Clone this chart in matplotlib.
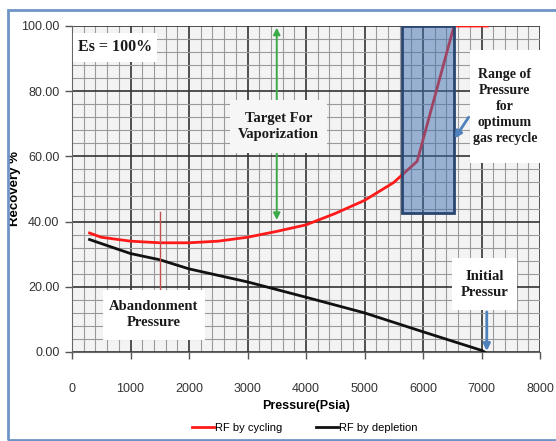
import matplotlib
matplotlib.use('Agg')
import matplotlib.pyplot as plt
import matplotlib.patches as mpatches
from matplotlib.ticker import MultipleLocator

# Datos
pressure_cyc = [300, 500, 1000, 1500, 2000, 2500, 3000, 3500, 4000, 4500, 5000, 5500, 5900, 6530, 7100]
rf_cycling = [36.5, 35.2, 34.0, 33.5, 33.5, 34.0, 35.2, 37.0, 39.0, 42.5, 46.5, 52.0, 58.5, 100.0, 100.0]

pressure_dep = [300, 1000, 1500, 2000, 3000, 4000, 5000, 6000, 7000, 7050]
rf_depletion = [34.5, 30.2, 28.3, 25.5, 21.5, 16.8, 12.0, 6.2, 0.5, 0.0]

abandonment_p = 1500
target_p = 3500
initial_p = 7090
range_p = [5640, 6530]
range_rf = [42.6, 100.0]

xticks = [0, 1000, 2000, 3000, 4000, 5000, 6000, 7000, 8000]
yticks = [0, 20, 40, 60, 80, 100]

SANS = ['Liberation Sans', 'DejaVu Sans']
SERIF = ['Liberation Serif', 'DejaVu Serif']

fig = plt.figure(figsize=(5.56, 4.41), dpi=100)
ax = fig.add_axes([72/556, 1-352/441, (540-72)/556, (352-26)/441])
ax.set_facecolor('#f3f3f3')

# rejilla
ax.set_xlim(0, 8000); ax.set_ylim(0, 100)
ax.xaxis.set_major_locator(MultipleLocator(1000))
ax.xaxis.set_minor_locator(MultipleLocator(200))
ax.yaxis.set_major_locator(MultipleLocator(20))
ax.yaxis.set_minor_locator(MultipleLocator(4))
ax.grid(which='minor', color='#9a9a9a', lw=0.8, zorder=0)
ax.grid(which='major', color='#333333', lw=1.2, zorder=0)
ax.set_axisbelow(True)
ax.set_xticks(xticks)
ax.set_yticks(yticks)
ax.set_yticklabels([f'{v:.2f}' for v in yticks], family=SANS, fontsize=9, color='#333')
ax.set_xticklabels([str(v) for v in xticks], family=SANS, fontsize=9, color='#333')
ax.tick_params(which='minor', length=0)
ax.tick_params(which='major', length=5, width=1, color='#555', direction='out')
ax.tick_params(axis='x', pad=17)
ax.tick_params(axis='y', pad=4)
for s in ['top', 'right']:
    ax.spines[s].set_visible(False)
ax.spines['left'].set_color('#666'); ax.spines['bottom'].set_color('#666')

ax.set_xlabel('Pressure(Psia)', family=SANS, fontsize=9, fontweight='bold', labelpad=4)
ax.set_ylabel('Recovery %', family=SANS, fontsize=9.5, fontweight='bold')
ax.yaxis.set_label_coords(-0.108, 0.5)

# curvas
l1, = ax.plot(pressure_cyc, rf_cycling, color='#ff1a1a', lw=2, zorder=3, label='RF by cycling')
l2, = ax.plot(pressure_dep, rf_depletion, color='#111111', lw=2, zorder=3, label='RF by depletion')

# presión de abandono
ax.plot([abandonment_p, abandonment_p], [19, 43], color='#c0504d', lw=1, zorder=3)

# rango de presión
ax.add_patch(mpatches.Rectangle((range_p[0], range_rf[0]), range_p[1]-range_p[0],
                                range_rf[1]-range_rf[0], facecolor='#3f6fb0', alpha=0.5,
                                edgecolor='none', zorder=4))
ax.add_patch(mpatches.Rectangle((range_p[0], range_rf[0]), range_p[1]-range_p[0],
                                range_rf[1]-range_rf[0], facecolor='none',
                                edgecolor='#2a4670', lw=2, zorder=4))

# flecha verde
ax.annotate('', xy=(target_p, 40.5), xytext=(target_p, 99.5),
            arrowprops=dict(arrowstyle='<|-|>', color='#3daa4a', lw=1.4,
                            mutation_scale=10, shrinkA=0, shrinkB=0), zorder=5)


def caja(x0, x1, y0, y1, txt, fc='white', fs=10.5):
    ax.add_patch(mpatches.Rectangle((x0, y0), x1-x0, y1-y0, facecolor=fc,
                                    edgecolor='none', zorder=6))
    ax.text((x0+x1)/2, (y0+y1)/2, txt, ha='center', va='center', family=SERIF,
            fontsize=fs, fontweight='bold', color='#1a1a1a', zorder=7, linespacing=1.3)


caja(20, 1450, 89, 98, 'Es = 100%', fs=11.5)
caja(2700, 4360, 61, 77.3, 'Target For\nVaporization', fc='#f6f6f6')
caja(6800, 8000, 58, 92.6, 'Range of\nPressure\nfor\noptimum\ngas recycle', fs=10)
caja(6500, 7600, 12.9, 28.8, 'Initial\nPressur')
caja(530, 2270, 3.7, 19, 'Abandonment\nPressure')

# flechas azules
ax.annotate('', xy=(6540, 65.5), xytext=(6780, 72),
            arrowprops=dict(arrowstyle='-|>', color='#4f81bd', lw=2,
                            mutation_scale=10, shrinkA=0, shrinkB=0), zorder=8)
ax.annotate('', xy=(initial_p, 0.3), xytext=(initial_p, 12.3),
            arrowprops=dict(arrowstyle='-|>', color='#4f81bd', lw=2,
                            mutation_scale=10, shrinkA=0, shrinkB=0), zorder=8)

fig.legend(handles=[l1, l2], loc='center', bbox_to_anchor=(305/556, 1-428/441), ncol=2,
           frameon=False, prop={'family': SANS, 'size': 8}, handlelength=2.0,
           handletextpad=0.1, columnspacing=3.0)

# marco exterior
fig.add_artist(mpatches.Rectangle((8/556, 1/441), 1.0, 430/441, transform=fig.transFigure,
                                  facecolor='none', edgecolor='#6f95c8', lw=2))

plt.savefig('out.png', dpi=100, facecolor='white')
plt.close()
